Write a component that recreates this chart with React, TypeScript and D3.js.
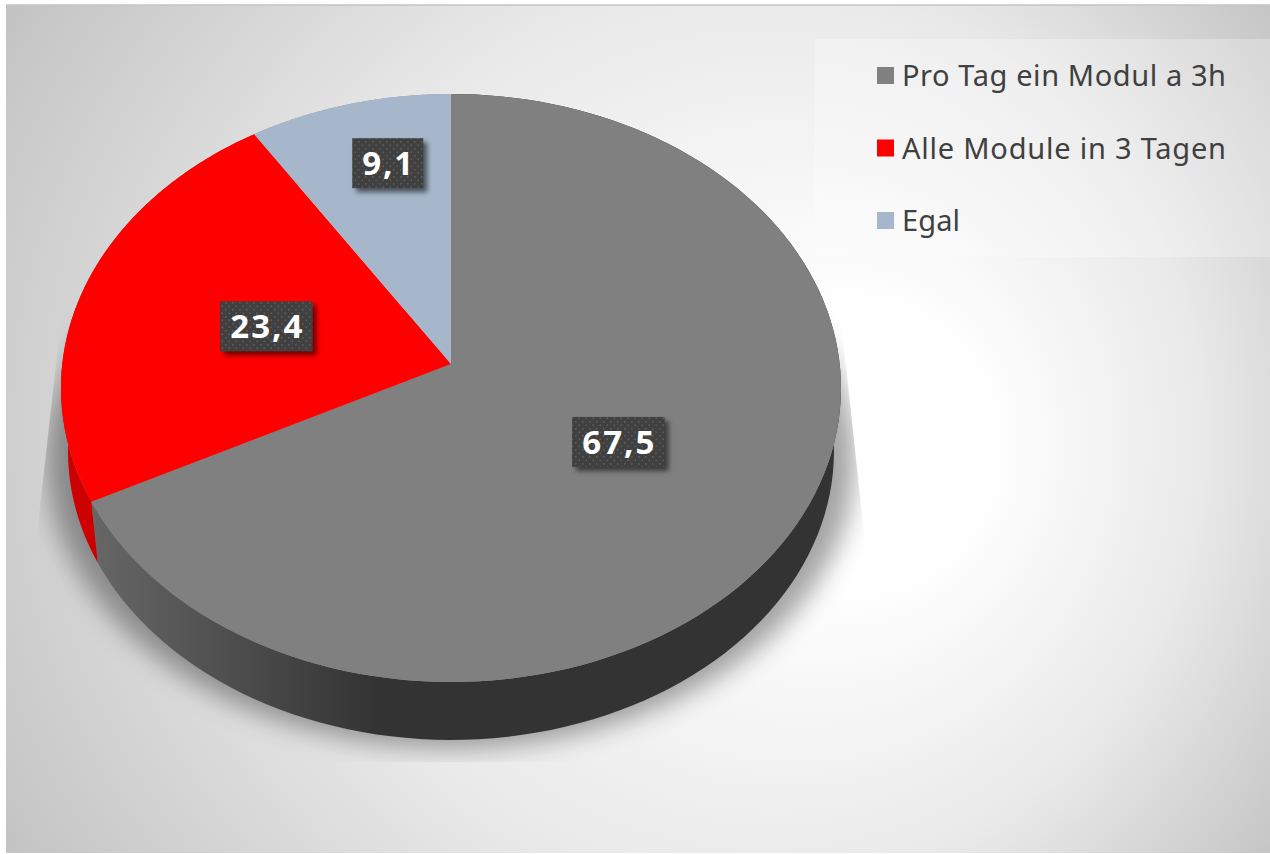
import React from "react";
import * as d3 from "d3";

const categories = ["Pro Tag ein Modul a 3h", "Alle Module in 3 Tagen", "Egal"];
const values = [67.5, 23.4, 9.1];
const labels = ["67,5", "23,4", "9,1"];
const colors = ["#808080", "#ff0000", "#a6b7cb"];
const wallColors = ["url(#wallGrad)", "#cc0000", "#8494a6"];

const W = 1270, H = 854;
const cx = 451, apexY = 364, topY = 94, botY = 682, R = 388.7;
// perspective of the disc: solved from top / apex / bottom of the top face
const persp = -48 / 588;
const a = (apexY - topY) + topY * persp;
const project = (ang: number, k = 1): [number, number] => {
  const vx = k * Math.sin(ang), vy = -k * Math.cos(ang);
  const den = 1 + persp * vy;
  return [cx + (R * vx) / den, (a * vy + apexY) / den];
};
const Yv = 3900, baseScale = 0.982;
const toBase = ([x, y]: [number, number]): [number, number] => [
  cx + (x - cx) * baseScale,
  Yv - (Yv - y) * baseScale,
];

const pie = d3.pie<number>().sort(null)(values);
const line = d3.line();
const arcPts = (a0: number, a1: number, k = 1) =>
  d3.range(0, 121).map((i) => project(a0 + ((a1 - a0) * i) / 120, k));

const labelOffset = [[-2, 0], [1, 0], [-10.5, -66]];

export default function App() {
  const legendY = d3.scalePoint<string>().domain(categories).range([75.5, 220.5]);
  const full = arcPts(0, Math.PI * 2);
  const grown = (p: [number, number]): [number, number] => [cx + (p[0] - cx) * 1.055, p[1]];
  return (
    <svg width={W} height={H} style={{ position: "absolute", left: 0, top: 0, display: "block" }}
      fontFamily="'Noto Sans', Lato, sans-serif">
      <defs>
        <radialGradient id="bg" gradientUnits="userSpaceOnUse" cx={640} cy={430} r={785} fx={900} fy={450}>
          <stop offset="0.17" stopColor="#ffffff" />
          <stop offset="0.58" stopColor="#e9e9e9" />
          <stop offset="1" stopColor="#c1c1c1" />
        </radialGradient>
        <linearGradient id="wallGrad" gradientUnits="userSpaceOnUse" x1={90} x2={380} y1={0} y2={0}>
          <stop offset="0" stopColor="#676767" />
          <stop offset="1" stopColor="#333333" />
        </linearGradient>
        <filter id="blur" x="-20%" y="-20%" width="140%" height="140%">
          <feGaussianBlur stdDeviation="13" />
        </filter>
        <filter id="labelShadow" x="-20%" y="-30%" width="150%" height="160%">
          <feGaussianBlur stdDeviation="2.5" />
        </filter>
        <clipPath id="shadowClip">
          <path d="M62,310 L840,310 L866,552 L866,762 L35,762 L35,552 Z" />
        </clipPath>
        <pattern id="dots" width={7} height={7} patternUnits="userSpaceOnUse">
          <rect width={7} height={7} fill="#404040" />
          <rect x={1} y={1} width={1.6} height={1.6} fill="#5e5e5e" />
          <rect x={4.5} y={4.5} width={1.6} height={1.6} fill="#5e5e5e" />
        </pattern>
      </defs>

      <rect x={0} y={0} width={W} height={H} fill="#fff" />
      <rect x={6} y={5} width={W - 6} height={848} fill="url(#bg)" />
      <line x1={6} x2={W} y1={5} y2={5} stroke="#c4c4c4" strokeWidth={1.5} />

      <g clipPath="url(#shadowClip)">
        <path d={line(full.map(toBase).map(grown))! + "Z"} fill="#000" fillOpacity={0.36} filter="url(#blur)"
          transform="translate(0,8)" />
      </g>

      {pie.map((s, i) => {
        const top = arcPts(s.startAngle, s.endAngle);
        const base = top.map(toBase).reverse();
        return <path key={"w" + i} d={line([...top, ...base])! + "Z"} fill={wallColors[i]} />;
      })}
      {pie.map((s, i) => (
        <path key={"t" + i} d={line([project(0, 0), ...arcPts(s.startAngle, s.endAngle)])! + "Z"} fill={colors[i]} />
      ))}

      {pie.map((s, i) => {
        const [lx, ly] = project((s.startAngle + s.endAngle) / 2, 0.5);
        const x = lx + labelOffset[i][0], y = ly + labelOffset[i][1];
        const w = labels[i].length === 3 ? 71 : 92.5, h = 50;
        return (
          <g key={"l" + i}>
            <rect x={x - w / 2 + 4} y={y - h / 2 + 4} width={w} height={h} fill="#000" fillOpacity={0.55} filter="url(#labelShadow)" />
            <rect x={x - w / 2} y={y - h / 2} width={w} height={h} fill="url(#dots)" />
            <text x={x} y={y + 12} textAnchor="middle" fill="#fff" fontWeight={700} fontSize={33}
              textLength={labels[i].length === 3 ? 51 : 72} lengthAdjust="spacing">{labels[i]}</text>
          </g>
        );
      })}

      <rect x={815} y={39} width={W - 815} height={218} fill="#fff" fillOpacity={0.27} />
      {categories.map((cat, i) => {
        const y = legendY(cat)!;
        return (
          <g key={cat}>
            <rect x={877} y={y - 8.5} width={17} height={17} fill={colors[i]} />
            <text x={902} y={y + 10.5} fill="#404040" fontSize={29}
              textLength={i === 2 ? 58 : 324} lengthAdjust="spacing">{cat}</text>
          </g>
        );
      })}
    </svg>
  );
}
